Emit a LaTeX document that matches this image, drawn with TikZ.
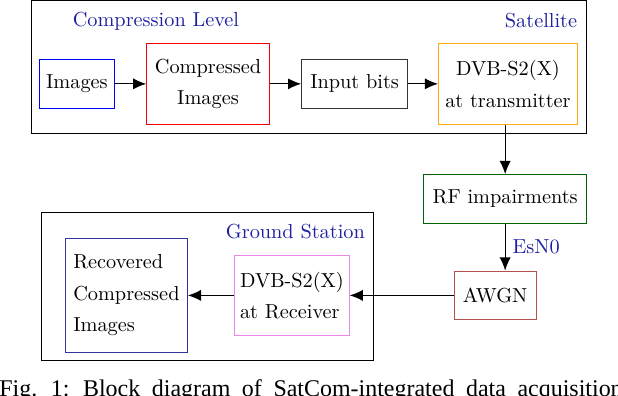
\documentclass[tikz,border=0pt]{standalone}
\usepackage{fontspec}
\newfontfamily\captionfont{Liberation Serif}
\usetikzlibrary{arrows.meta,positioning,fit}
\definecolor{titleblue}{RGB}{30,30,160}
\definecolor{txorange}{RGB}{255,170,20}
\definecolor{rfgreen}{RGB}{0,100,0}
\definecolor{awgnred}{RGB}{180,80,80}
\definecolor{rxviolet}{RGB}{235,135,235}
\definecolor{recblue}{RGB}{50,50,160}

\begin{document}
\begin{tikzpicture}[
node distance=15.5pt,
blockbox/.style={draw, inner sep=3.3pt},
framebox/.style={draw, inner sep=4pt},
titlelabel/.style={text=titleblue, inner xsep=0pt, inner ysep=1.4pt},
arrow/.style={-{Latex[length=6.5pt,width=5.5pt]}, semithick}
]
\useasboundingbox (0,0) rectangle (304.4pt,-195pt);

\node[blockbox, draw=blue, minimum width=36.4pt, minimum height=24pt] (img) at (37.9pt,-41.3pt) {Images};
\node[blockbox, draw=red, minimum width=60.4pt, minimum height=40.2pt, align=center, right=of img] (cmp) {Compressed\\[3.5pt]Images};
\node[blockbox, draw=black!80, minimum width=52.2pt, minimum height=24pt, right=of cmp] (bits) {Input bits};
\node[blockbox, draw=txorange, minimum width=68.5pt, minimum height=40pt, align=center, right=14.8pt of bits] (tx) {DVB-S2(X)\\[3.5pt]at transmitter};
\node[blockbox, draw=rfgreen, minimum width=80.4pt, minimum height=24pt, below=24.3pt of tx, xshift=-1.4pt] (rf) {RF impairments};
\node[blockbox, draw=awgnred, minimum width=40.2pt, minimum height=24pt, below=23.1pt of rf, xshift=-4.9pt] (awgn) {AWGN};
\node[blockbox, inner xsep=2.5pt, draw=rxviolet, line width=0.5pt, minimum width=56.3pt, minimum height=39.7pt, align=left, left=51.4pt of awgn] (rx) {DVB-S2(X)\\[3.5pt]at Receiver};
\node[blockbox, draw=recblue, minimum width=60.1pt, minimum height=55.8pt, align=left, left=22.9pt of rx] (rec) {Recovered\\[3.5pt]Compressed\\[3.5pt]Images};

% titles and frames
\node[titlelabel, anchor=base west] (cl) at ([xshift=16.4pt,yshift=16.1pt]img.north west) {Compression Level};
\node[titlelabel, anchor=base east] (sat) at ([xshift=-0.2pt,yshift=7.7pt]tx.north east) {Satellite};
\node[titlelabel, anchor=base east] (gs) at ([xshift=7.7pt,yshift=7.9pt]rx.north east) {Ground Station};
\coordinate (gsleft) at ([xshift=-7.6pt]rec.west);
\node[framebox, fit=(img)(tx)(cl)(sat)] (satframe) {};
\node[framebox, fit=(gsleft)(rec)(rx)(gs)] (gsframe) {};

\draw[arrow] (img) -- (cmp);
\draw[arrow] (cmp) -- (bits);
\draw[arrow] (bits) -- (tx);
\draw[arrow] (rf.north |- tx.south) -- (rf.north);
\draw[arrow] (rf.south) -- (rf.south |- awgn.north) node[midway, right, text=titleblue] {EsN0};
\draw[arrow] (awgn) -- (rx);
\draw[arrow] (rx) -- (rec);

% caption
\node[anchor=base west, inner sep=0pt, font=\captionfont\fontsize{11.8pt}{14pt}\selectfont] (cap) at (-0.5pt,-195.4pt) {\spaceskip=5.7pt Fig. 1: Block diagram of SatCom-integrated data acquisition};
\end{tikzpicture}
\end{document}
